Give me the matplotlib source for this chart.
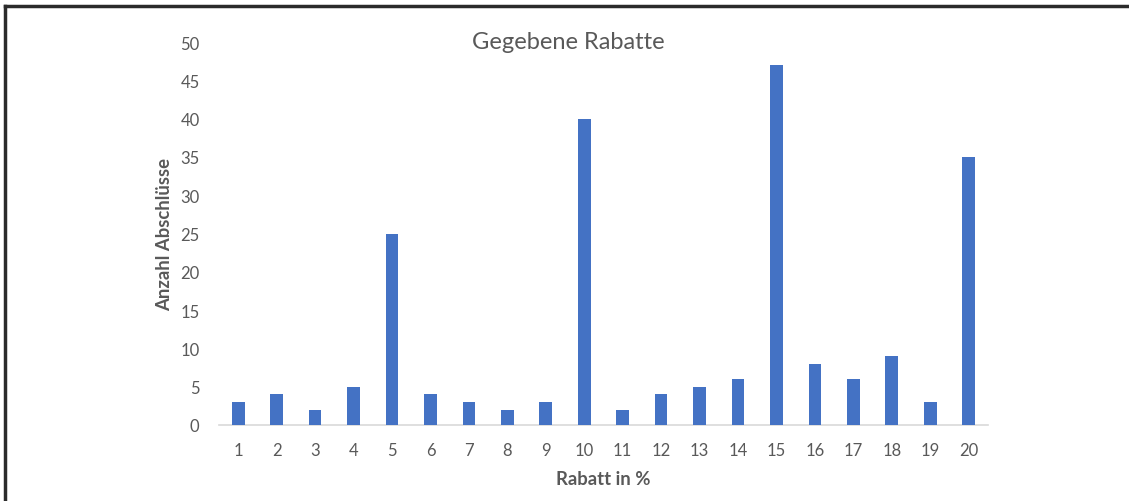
import matplotlib
matplotlib.use("Agg")
import matplotlib.pyplot as plt
from matplotlib.lines import Line2D

plt.rcParams['font.family'] = ['Lato', 'DejaVu Sans']

rabatt = list(range(1, 21))
abschluesse = [3, 4, 2, 5, 25, 4, 3, 2, 3, 40, 2, 4, 5, 6, 47, 8, 6, 9, 3, 35]
yticks = [0, 5, 10, 15, 20, 25, 30, 35, 40, 45, 50]

grey = "#595959"
fig = plt.figure(figsize=(11.29, 5.02), dpi=100)
ax = fig.add_axes([0.194, 0.1514, 0.681, 0.7629])
ax.bar(rabatt, abschluesse, width=0.33, color="#4472C4", zorder=3)
ax.set_xlim(0.5, 20.5)
ax.set_ylim(0, 50)
ax.set_xticks(rabatt)
ax.set_yticks(yticks)
ax.tick_params(axis="both", length=0, labelsize=12, labelcolor=grey)
ax.tick_params(axis="y", pad=14)
ax.tick_params(axis="x", pad=12)
for s in ["top", "right", "left"]:
    ax.spines[s].set_visible(False)
ax.spines["bottom"].set_color("#D9D9D9")
ax.spines["bottom"].set_linewidth(1.2)

ax.set_xlabel("Rabatt in %", fontsize=13.3, fontweight="bold", color=grey, labelpad=9)
ax.set_ylabel("Anzahl Abschlüsse", fontsize=13.3, fontweight="bold", color=grey, labelpad=5)
fig.text(0.503, 0.915, "Gegebene Rabatte", fontsize=17, color=grey, ha="center", va="center")

# frame lines at top and left of the image
fig.add_artist(Line2D([0.0045, 1.0], [0.986, 0.986], transform=fig.transFigure, color="#2b2b2b", lw=2.5))
fig.add_artist(Line2D([0.0045, 0.0045], [0.0, 0.986], transform=fig.transFigure, color="#2b2b2b", lw=2.5))

fig.savefig("out.png", dpi=100)
